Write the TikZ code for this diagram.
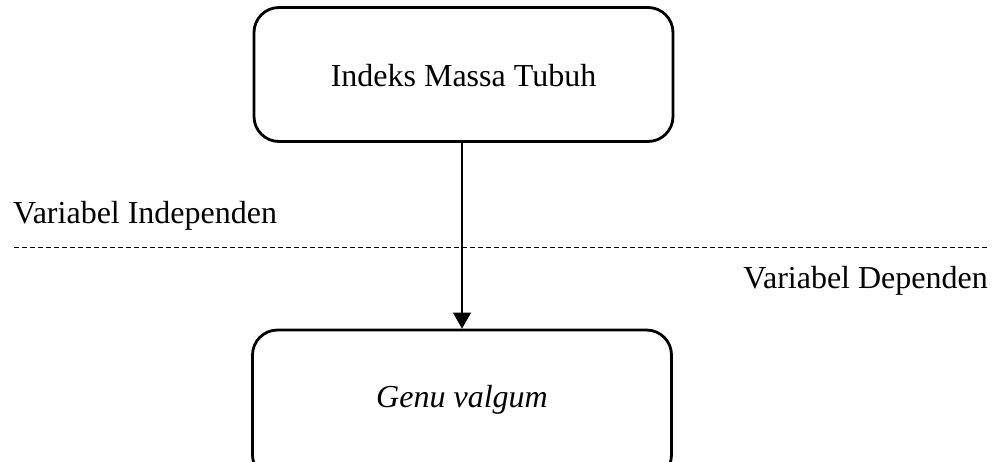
\documentclass[tikz,border=0pt]{standalone}
\usepackage{fontspec}
\setmainfont{Liberation Serif}
\usetikzlibrary{arrows.meta}
\begin{document}
\begin{tikzpicture}[x=1pt,y=-1pt,
  boxstyle/.style={draw,line width=2.8pt,rounded corners=25pt,minimum width=419pt,inner sep=0pt,font=\fontsize{32}{38}\selectfont},
  lbl/.style={font=\fontsize{32}{38}\selectfont,inner sep=0pt},
  conn/.style={line width=1.2pt,-{Triangle[width=18pt,length=16pt]}},
  sep/.style={line width=0.9pt,dash pattern=on 4.5pt off 3.5pt}]
\useasboundingbox (0,0) rectangle (999,461);
\clip (0,0) rectangle (999,461);
\node[boxstyle,minimum height=134pt] (imt) at (463.5,74.5) {};
\node[lbl,anchor=base] (imtt) at (463.5,86) {Indeks Massa Tubuh};
\node[boxstyle,minimum height=150pt] (gv) at (462,405) {};
\node[lbl,anchor=base] (gvt) at (462,407) {\itshape Genu valgum};
\node[lbl,anchor=base west] (vi) at (13,223) {Variabel Independen};
\node[lbl,anchor=base east] (vd) at (988,288) {Variabel Dependen};
\coordinate (dl) at (14,247);
\coordinate (dr) at (990,247);
\draw[sep] (dl) -- (dr);
\draw[conn] (imt.south -| 462,0) -- (gv.north -| 462,0);
\end{tikzpicture}
\end{document}
